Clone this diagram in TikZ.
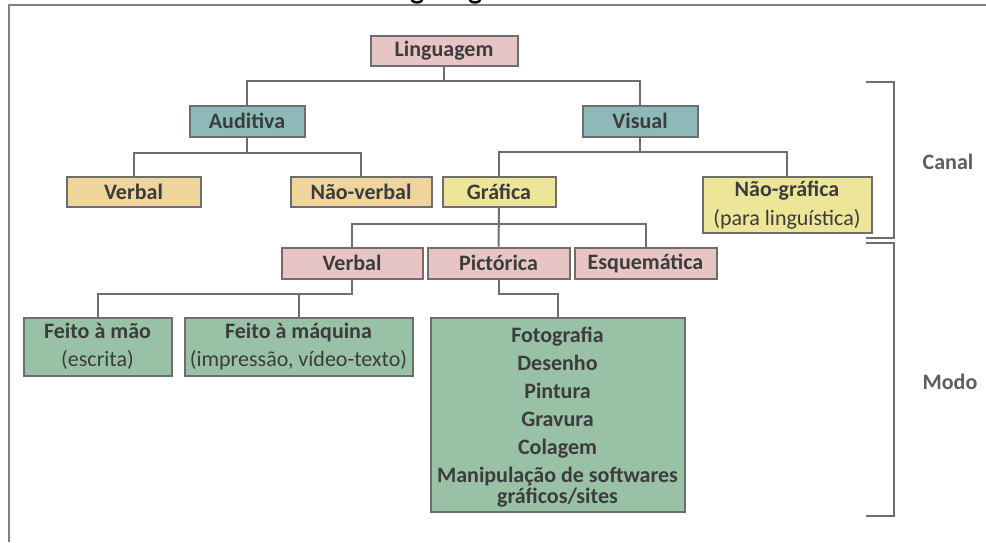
\documentclass[tikz,border=0pt]{standalone}
\usepackage{fontspec}
\setmainfont{Carlito}
\definecolor{pinkc}{HTML}{E8C5C5}
\definecolor{tealc}{HTML}{8DBAB9}
\definecolor{orangec}{HTML}{EFD49C}
\definecolor{yellowc}{HTML}{EDE598}
\definecolor{greenc}{HTML}{99C1A6}
\definecolor{bordc}{HTML}{6E6E6E}
\definecolor{txtc}{HTML}{3C3C3C}
\definecolor{labc}{HTML}{5E5E5E}
\definecolor{framec}{HTML}{808080}
\begin{document}
\begin{tikzpicture}[x=1pt,y=-1pt,
  box/.style={draw=bordc, line width=2pt, inner sep=0pt, align=center, text=txtc,
              font=\fontsize{22}{28}\selectfont},
  bbox/.style={box, font=\fontsize{22}{26}\selectfont\bfseries},
  conn/.style={draw=bordc, line width=2pt},
  brack/.style={draw=bordc, line width=2pt},
  lab/.style={inner sep=0pt, text=labc, font=\fontsize{22}{26}\selectfont\bfseries}]
\useasboundingbox (0,0) rectangle (986,542);
\fill[white] (0,0) rectangle (986,542);
% fragments of the cut-off heading above the frame
\begin{scope}
\clip (0,0) rectangle (986,542);
\draw[black, line width=2.4pt] (411,-2) arc[start angle=180, end angle=0, x radius=6, y radius=4.5];
\draw[black, line width=2.4pt] (469,-2) arc[start angle=180, end angle=0, x radius=6, y radius=4.5];
\end{scope}
% frame
\draw[framec, line width=1.5pt] (9,542) -- (9,5) -- (986,5);
% nodes
\node[bbox, fill=pinkc, minimum width=147pt, minimum height=30pt] (ling) at (444,50.5) {Linguagem};
\node[bbox, fill=tealc, minimum width=115pt, minimum height=31pt] (aud) at (247,121) {Auditiva};
\node[bbox, fill=tealc, minimum width=115pt, minimum height=31pt] (vis) at (640,121) {Visual};
\node[bbox, fill=orangec, minimum width=134pt, minimum height=30pt] (verb1) at (133.5,191.5) {Verbal};
\node[bbox, fill=orangec, minimum width=141pt, minimum height=30pt] (nverb) at (361,191.5) {Não-verbal};
\node[bbox, fill=yellowc, minimum width=113pt, minimum height=30pt] (graf) at (499,191.5) {Gráfica};
\node[box, fill=yellowc, minimum width=169pt, minimum height=56pt, font=\fontsize{22}{29}\selectfont] (ngraf) at (787,205) {{\bfseries Não-gráfica}\\(para linguística)};
\node[bbox, fill=pinkc, minimum width=141pt, minimum height=31pt] (verb2) at (352,263) {Verbal};
\node[bbox, fill=pinkc, minimum width=142pt, minimum height=31pt] (pict) at (498.5,263) {Pictórica};
\node[bbox, fill=pinkc, minimum width=142pt, minimum height=31pt] (esq) at (645.5,263) {Esquemática};
\node[box, fill=greenc, minimum width=148pt, minimum height=58pt] (mao) at (97.5,346.5) {{\bfseries Feito à mão}\\(escrita)};
\node[box, fill=greenc, minimum width=228pt, minimum height=58pt] (maq) at (298.5,346.5) {{\bfseries Feito à máquina}\\(impressão, vídeo-texto)};
\node[bbox, fill=greenc, minimum width=254pt, minimum height=194pt, font=\fontsize{22}{28}\selectfont\bfseries] (pic) at (557.5,414.5)
  {\rule{0pt}{20pt}Fotografia\\Desenho\\Pintura\\Gravura\\Colagem\\Manipulação de softwares\\[-7pt]gráficos/sites};
% connectors
\draw[conn] (ling.south) -- ++(0,14) -| (aud.north);
\draw[conn] (ling.south) -- ++(0,14) -| (vis.north);
\draw[conn] (aud.south) -- ++(0,15) -| (verb1.north);
\draw[conn] (aud.south) -- ++(0,15) -| (nverb.north);
\draw[conn] (vis.south) -- ++(0,14) -| (graf.north);
\draw[conn] (vis.south) -- ++(0,14) -| (ngraf.north);
\draw[conn] (graf.south) -- ++(0,16) -| (verb2.north);
\draw[conn] (graf.south) -- (pict.north);
\draw[conn] (graf.south) -- ++(0,16) -| (esq.north);
\draw[conn] (verb2.south) -- ++(0,14) -| (mao.north);
\draw[conn] (verb2.south) -- ++(0,14) -| (maq.north);
\draw[conn] (pict.south) -- ++(0,14) -| (pic.north);
% brackets
\draw[brack] (866,82) -- (894,82) -- (894,238) -- (866,238);
\draw[brack] (866,243) -- (894,243) -- (894,516) -- (866,516);
\node[lab] (canal) at (948,162) {Canal};
\node[lab] (modo) at (950,382) {Modo};
\end{tikzpicture}
\end{document}
